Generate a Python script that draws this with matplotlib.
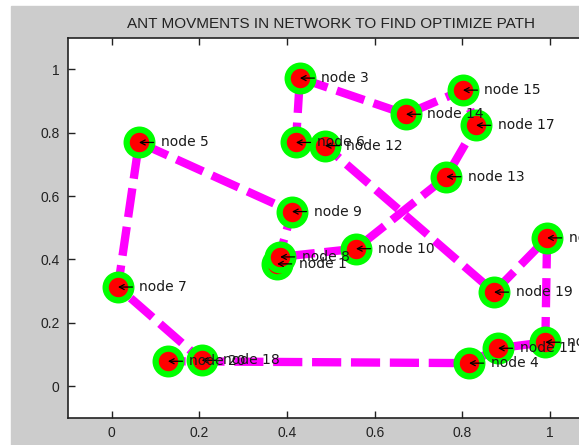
import matplotlib.pyplot as plt
from matplotlib.patches import Rectangle

plt.rcParams['lines.scale_dashes'] = False

# node positions (node 1 .. node 20)
node_x = [0.377, 0.989, 0.429, 0.815, 0.062, 0.420, 0.014, 0.384, 0.411, 0.557,
          0.881, 0.486, 0.763, 0.671, 0.801, 0.993, 0.831, 0.205, 0.872, 0.128]
node_y = [0.386, 0.139, 0.972, 0.073, 0.769, 0.769, 0.313, 0.408, 0.551, 0.434,
          0.120, 0.759, 0.661, 0.858, 0.934, 0.468, 0.823, 0.082, 0.297, 0.079]
node_names = ['node %d' % (i + 1) for i in range(len(node_x))]

# order in which the ants visit the nodes (closed tour)
tour = [3, 14, 15, 17, 13, 10, 8, 1, 9, 5, 7, 18, 20, 4, 11, 2, 16, 19, 12, 6, 3]

fig = plt.figure(figsize=(5.79, 4.45), dpi=100, facecolor='white')
# matlab grey figure background
fig.patches.append(Rectangle((11 / 579, 0), 1, (445 - 6) / 445,
                             transform=fig.transFigure, color='#cccccc', zorder=-10))

ax = fig.add_axes([68 / 579, 27 / 445, 526 / 579, 380.5 / 445])
ax.set_facecolor('white')

px = [node_x[n - 1] for n in tour]
py = [node_y[n - 1] for n in tour]
ax.plot(px, py, color='#ff00ff', lw=6, dashes=(21, 7),
        solid_capstyle='butt', dash_capstyle='butt', zorder=2)

ax.plot(node_x, node_y, 'o', ms=18.5, mfc='#ff0000', mec='#00ff00', mew=4.5,
        linestyle='none', zorder=3)

# '\leftarrow node k' style labels
for x, y, name in zip(node_x, node_y, node_names):
    ax.annotate(name, (x, y), xytext=(15.5, 0), textcoords='offset points',
                ha='left', va='center', fontsize=10, color='#1a1a1a', zorder=4,
                annotation_clip=False,
                arrowprops=dict(arrowstyle='->,head_length=0.35,head_width=0.18',
                                color='black', lw=0.9, relpos=(0, 0.5),
                                shrinkA=3, shrinkB=0))

ax.set_xlim(-0.1, 1.1)
ax.set_ylim(-0.1, 1.1)
ax.set_xticks([0, 0.2, 0.4, 0.6, 0.8, 1])
ax.set_xticklabels(['0', '0.2', '0.4', '0.6', '0.8', '1'])
ax.set_yticks([0, 0.2, 0.4, 0.6, 0.8, 1])
ax.set_yticklabels(['0', '0.2', '0.4', '0.6', '0.8', '1'])
ax.tick_params(direction='in', length=5, width=1, top=True, right=True,
               labelsize=10, pad=6, colors='#222222')
for lbl in ax.get_xticklabels() + ax.get_yticklabels():
    lbl.set_fontfamily('Liberation Sans')
for s in ax.spines.values():
    s.set_linewidth(1.2)
    s.set_color('#222222')

ax.set_title('ANT MOVMENTS IN NETWORK TO FIND OPTIMIZE PATH', fontsize=11,
             family='Liberation Sans', color='#222222', pad=7)

plt.savefig('out.png', dpi=100, facecolor='white')
